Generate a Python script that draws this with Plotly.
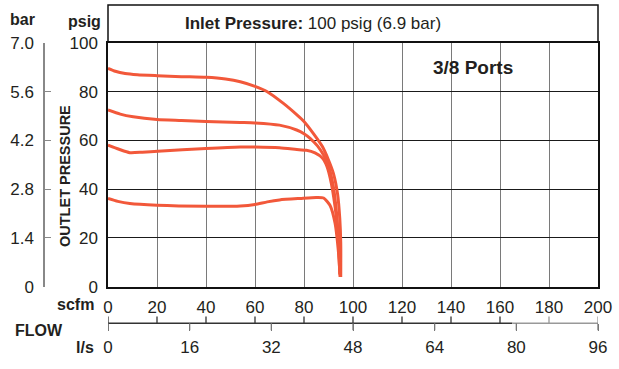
import plotly.graph_objects as go

# ---------------- data ----------------
scfm_ticks = [0, 20, 40, 60, 80, 100, 120, 140, 160, 180, 200]
ls_ticks = [0, 16, 32, 48, 64, 80, 96]
psig_ticks = [0, 20, 40, 60, 80, 100]
bar_ticks = [0, 1.4, 2.8, 4.2, 5.6, 7.0]
bar_labels = ["0", "1.4", "2.8", "4.2", "5.6", "7.0"]

c1_x = [0, 3, 7, 12, 20, 30, 40, 48, 54, 60, 65, 71.6, 77, 80, 84, 87.5, 90, 92, 93.7, 94.6, 95, 95]
c1_y = [89.6, 88.4, 87.5, 87.0, 86.6, 86.2, 85.9, 85.2, 84.1, 82.2, 80.0, 75.2, 70.6, 67.8, 62.6, 57.5, 52.0, 46.5, 38, 28, 18, 4]

c2_x = [0, 5, 10.3, 20, 30, 40, 54, 60, 70, 77, 80, 82.5, 85.5, 88, 89.7, 91.9, 93.4, 94.4, 94.8]
c2_y = [72.5, 70.8, 69.7, 68.6, 68.2, 67.8, 67.4, 67.2, 66.3, 64.3, 62.8, 60.9, 57.8, 54.0, 50.5, 41.5, 29, 13, 4]

c3_x = [0, 4.5, 8.9, 14, 20.3, 40, 54, 60, 70, 78, 81, 84.5, 87.5, 89, 90.6, 92.7, 94, 94.6]
c3_y = [58.1, 56.4, 55.0, 55.2, 55.6, 56.7, 57.3, 57.3, 57.0, 56.2, 56.0, 54.9, 52.8, 50.3, 45, 32.7, 19, 5]

c4_x = [0, 4, 8.9, 20, 40, 54, 60, 65, 70, 78.4, 85, 88, 90.6, 92.7, 94, 94.7, 94.8]
c4_y = [36.2, 35.0, 34.1, 33.4, 33.0, 33.1, 33.7, 34.8, 35.6, 36.2, 36.6, 36.4, 33.4, 25.9, 14.9, 5.3, 4]

curves = [(c1_x, c1_y), (c2_x, c2_y), (c3_x, c3_y), (c4_x, c4_y)]

# ---------------- layout helpers ----------------
W, H = 619, 369
ML, MR, MT, MB = 8, 21, 5, 46
PW = W - ML - MR
PH = H - MT - MB


def px(x):
    return (x - ML) / PW


def py(y):
    return (H - MB - y) / PH


FONT = "Liberation Sans, Arial, sans-serif"
TXT = "#231f20"
ORANGE = "#f2583a"
FS = 17

x_dom = [px(108), 1]
y_dom = [py(286.7), py(43)]

fig = go.Figure()
for cx, cy in curves:
    fig.add_trace(go.Scatter(x=cx, y=cy, mode="lines",
                             line=dict(color=ORANGE, width=3, shape="spline", smoothing=0.6),
                             hoverinfo="skip", showlegend=False))
# dummy traces to anchor the extra axes
fig.add_trace(go.Scatter(x=[None], y=[None], xaxis="x3", yaxis="y3", showlegend=False))
fig.add_trace(go.Scatter(x=[None], y=[None], xaxis="x", yaxis="y2", showlegend=False))

fig.update_layout(
    width=W, height=H,
    margin=dict(l=ML, r=MR, t=MT, b=MB, autoexpand=False),
    paper_bgcolor="white", plot_bgcolor="white",
    font=dict(family=FONT, size=FS, color=TXT),
    hovermode=False,
    xaxis=dict(domain=x_dom, range=[0, 200], tickvals=scfm_ticks, showgrid=True,
               gridcolor="#7a7a7a", gridwidth=1.3, zeroline=False, ticks="",
               showline=True, mirror=True, linecolor="#111", linewidth=1.5,
               tickfont=dict(size=FS), ticklabelstandoff=4, automargin=False),
    yaxis=dict(domain=y_dom, range=[0, 100], tickvals=psig_ticks, showgrid=True,
               gridcolor="#1a1a1a", gridwidth=1.3, zeroline=False, ticks="",
               showline=True, mirror=True, linecolor="#111", linewidth=1.5,
               tickfont=dict(size=FS), ticklabelstandoff=5, automargin=False),
    yaxis3=dict(domain=[0, 0.003], range=[0, 1], visible=False, automargin=False),
    xaxis3=dict(domain=x_dom, range=[0, 96], anchor="y3",
                side="bottom", tickvals=ls_ticks, ticks="outside", ticklen=7,
                tickcolor="#777", tickwidth=1.3, showgrid=False, zeroline=False,
                showline=False, tickfont=dict(size=FS), ticklabelstandoff=2,
                automargin=False),
    yaxis2=dict(domain=y_dom, range=[0, 7], overlaying="y", anchor="free", position=px(44),
                side="left", tickvals=bar_ticks, ticktext=bar_labels, ticks="inside",
                ticklen=6, tickcolor="#888", tickwidth=1.3, showline=True,
                linecolor="#888", linewidth=1.5, showgrid=False, zeroline=False,
                tickfont=dict(size=FS), ticklabelstandoff=6, automargin=False),
)

# title band box (top, left and right sides) above the grid
bx0, bx1, by0, by1 = px(108), 1, py(43), 1
fig.add_shape(type="path", xref="paper", yref="paper",
              path=f"M {bx0},{by0} L {bx0},{by1} L {bx1},{by1} L {bx1},{by0}",
              line=dict(color="#111", width=1.5))

# FLOW axis line with upward scfm ticks and downward l/s ticks
ly = py(323.3)
fig.add_shape(type="line", xref="x", yref="paper", x0=0, x1=165, y0=ly, y1=ly,
              line=dict(color="#333", width=1.5))
fig.add_shape(type="line", xref="x", yref="paper", x0=165, x1=200, y0=ly, y1=ly,
              line=dict(color="#999", width=1.5))
for v in scfm_ticks:
    fig.add_shape(type="line", xref="x", yref="paper", x0=v, x1=v, y0=ly, y1=py(316.5),
                  line=dict(color="#333" if v < 170 else "#999", width=1.3))
for v in ls_ticks:
    fig.add_shape(type="line", xref="x3", yref="paper", x0=v, x1=v, y0=ly, y1=py(330.3),
                  line=dict(color="#777", width=1.3))


def ann(text, x, y, size=FS, xanchor="center", angle=0):
    fig.add_annotation(text=text, xref="paper", yref="paper", x=px(x), y=py(y),
                       xanchor=xanchor, yanchor="middle", showarrow=False,
                       textangle=angle, font=dict(size=size, color=TXT, family=FONT))


ann("<b>bar</b>", 22, 20, size=16)
ann("<b>psig</b>", 84, 22, size=16)
ann("<b>OUTLET PRESSURE</b>", 65, 176, size=14.5, angle=-90)
ann("<b>scfm</b>", 96, 304, size=16, xanchor="right")
ann("<b>FLOW</b>", 39, 330, size=16)
ann("<b>l/s</b>", 96, 347, size=16, xanchor="right")
ann("<b>Inlet Pressure:</b> 100 psig (6.9 bar)", 183, 24, xanchor="left")
ann("<b>3/8 Ports</b>", 473, 68, size=19)

fig.write_html("out.html", config={"displayModeBar": False},
               post_script="document.body.style.margin='0px';")
